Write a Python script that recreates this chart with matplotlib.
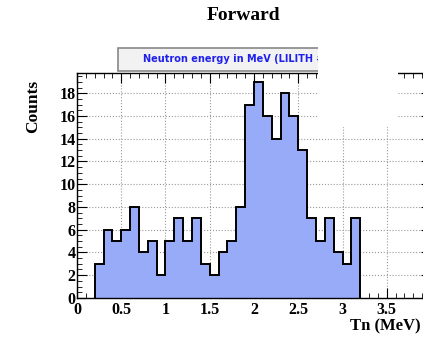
import numpy as np
import matplotlib
matplotlib.use("Agg")
import matplotlib.pyplot as plt
from matplotlib.patches import Rectangle
from matplotlib.ticker import MultipleLocator

# neutron energy histogram, 0.1 MeV bins from 0.2 to 3.2 MeV
bin_edges = np.round(np.arange(0.2, 3.21, 0.1), 2)
counts = [3, 6, 5, 6, 8, 4, 5, 2, 5, 7,
          5, 7, 3, 2, 4, 5, 8, 17, 19, 16,
          14, 18, 16, 13, 7, 5, 7, 4, 3, 7]

title = "Forward"
box_title = "Neutron energy in MeV (LILITH #1)"
xlabel = "Tn (MeV)"
ylabel = "Counts"

serif = "Liberation Serif"

fig = plt.figure(figsize=(4.23, 3.42), dpi=100)
ax = fig.add_axes([0.182, 0.129, 0.837, 0.658])

ax.stairs(counts, bin_edges, fill=True, color="#97abf9", zorder=2)
ax.stairs(counts, bin_edges, color="black", linewidth=1.4, zorder=3,
          baseline=0)

ax.set_xlim(0, 4)
ax.set_ylim(0, 19.8)
ax.xaxis.set_major_locator(MultipleLocator(0.5))
ax.xaxis.set_minor_locator(MultipleLocator(0.1))
ax.yaxis.set_major_locator(MultipleLocator(2))
ax.yaxis.set_minor_locator(MultipleLocator(0.5))
# the label at 4 falls past the edge of the canvas
ax.xaxis.set_major_formatter(
    plt.FuncFormatter(lambda v, p: f"{v:g}" if v < 3.9 else ""))
ax.tick_params(which="both", direction="in", top=True, right=True,
               labelsize=11.5)
ax.tick_params(axis="x", pad=3)
ax.tick_params(axis="y", pad=1)
ax.tick_params(which="major", length=7)
ax.tick_params(which="minor", length=3.5)
for lab in ax.get_xticklabels() + ax.get_yticklabels():
    lab.set_fontfamily(serif)
    lab.set_fontweight("bold")
ax.grid(True, which="major", linestyle=":", color="#999999", linewidth=0.8,
        zorder=1)
ax.set_axisbelow(True)
for s in ax.spines.values():
    s.set_linewidth(1.0)

fig.text(0.575, 0.955, title, ha="center", va="center", fontsize=14,
         fontweight="bold", family=serif)
fig.text(0.995, 0.045, xlabel, ha="right", va="center", fontsize=12,
         fontweight="bold", family=serif)
fig.text(0.078, 0.69, ylabel, ha="center", va="center", rotation=90,
         fontsize=12.5, fontweight="bold", family=serif)

# histogram title box
fig.patches.append(Rectangle((118 / 423, 1 - 71 / 342), 262 / 423, 23 / 342,
                             transform=fig.transFigure, facecolor="#f2f2f2",
                             edgecolor="#888888", linewidth=1.2, zorder=5))
fig.text(143 / 423, 1 - 59 / 342, box_title, ha="left", va="center",
         fontsize=7, fontweight="bold", color="#2020ee", family="DejaVu Sans",
         zorder=6)

# blank area over the stats region
fig.patches.append(Rectangle((318 / 423, 1 - 127 / 342), 80 / 423, 90 / 342,
                             transform=fig.transFigure, facecolor="white",
                             edgecolor="none", zorder=10))

fig.savefig("out.png", dpi=100)
